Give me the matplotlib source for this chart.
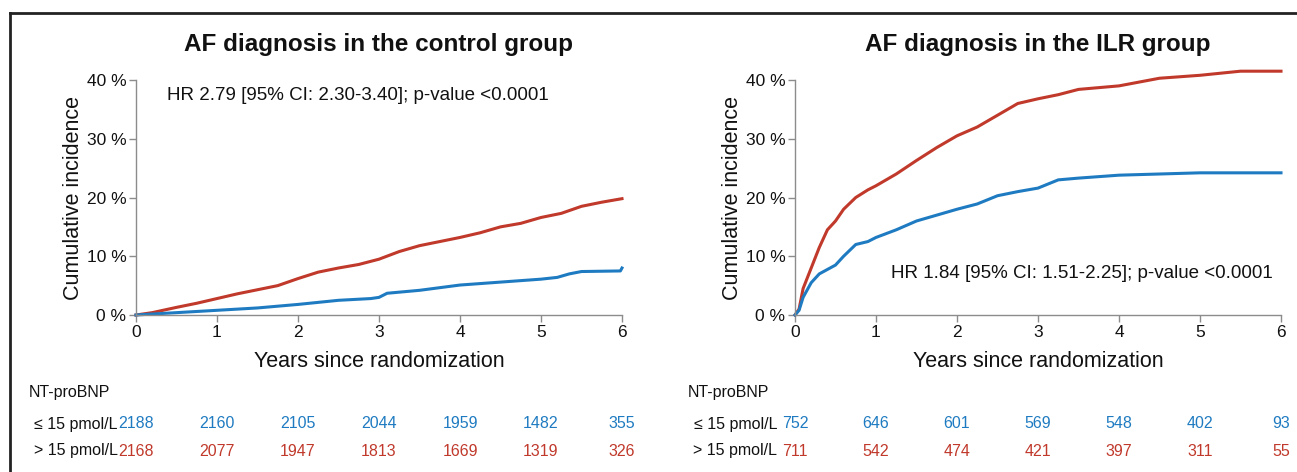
import matplotlib
matplotlib.use("Agg")
import matplotlib.pyplot as plt
from matplotlib.lines import Line2D

plt.rcParams['font.family'] = ['Liberation Sans', 'DejaVu Sans']

RED = '#c0392b'
BLUE = '#1f7bc1'
GRAY = '#8c8c8c'

# control group curves (years, cumulative incidence %)
ctrl_hi_t = [0, 0.2, 0.5, 0.75, 1, 1.25, 1.5, 1.75, 2, 2.25, 2.5, 2.75, 3, 3.25,
             3.5, 3.75, 4, 4.25, 4.5, 4.75, 5, 5.25, 5.5, 5.75, 6]
ctrl_hi_y = [0, 0.4, 1.3, 2.0, 2.8, 3.6, 4.3, 5.0, 6.2, 7.3, 8.0, 8.6, 9.5, 10.8,
             11.8, 12.5, 13.2, 14.0, 15.0, 15.6, 16.6, 17.3, 18.5, 19.2, 19.8]
ctrl_lo_t = [0, 0.5, 1, 1.5, 2, 2.5, 2.9, 3.0, 3.1, 3.5, 4, 4.5, 5, 5.2, 5.35,
             5.5, 5.98, 6]
ctrl_lo_y = [0, 0.4, 0.8, 1.2, 1.8, 2.5, 2.8, 3.0, 3.7, 4.2, 5.1, 5.6, 6.1, 6.4,
             7.0, 7.4, 7.5, 8.0]

# ILR group curves
ilr_hi_t = [0, 0.05, 0.1, 0.2, 0.3, 0.4, 0.5, 0.6, 0.75, 0.9, 1, 1.25, 1.5, 1.75,
            2, 2.25, 2.5, 2.75, 3, 3.25, 3.5, 4, 4.5, 5, 5.5, 6]
ilr_hi_y = [0, 1.0, 4.5, 8.0, 11.5, 14.5, 16.0, 18.0, 20.0, 21.3, 22.0, 24.0,
            26.3, 28.5, 30.5, 32.0, 34.0, 36.0, 36.8, 37.5, 38.4, 39.0, 40.3,
            40.8, 41.5, 41.5]
ilr_lo_t = [0, 0.05, 0.1, 0.2, 0.3, 0.5, 0.6, 0.75, 0.9, 1, 1.25, 1.5, 1.75, 2,
            2.25, 2.5, 2.75, 3, 3.25, 3.5, 4, 4.5, 5, 6]
ilr_lo_y = [0, 0.8, 3.0, 5.5, 7.0, 8.5, 10.0, 12.0, 12.5, 13.2, 14.5, 16.0, 17.0,
            18.0, 18.9, 20.3, 21.0, 21.6, 23.0, 23.3, 23.8, 24.0, 24.2, 24.2]

# numbers at risk
years = [0, 1, 2, 3, 4, 5, 6]
ctrl_risk_lo = [2188, 2160, 2105, 2044, 1959, 1482, 355]
ctrl_risk_hi = [2168, 2077, 1947, 1813, 1669, 1319, 326]
ilr_risk_lo = [752, 646, 601, 569, 548, 402, 93]
ilr_risk_hi = [711, 542, 474, 421, 397, 311, 55]

yticks = [0, 10, 20, 30, 40]

W, H = 1297, 472
fig = plt.figure(figsize=(W / 100, H / 100), dpi=100)


def fx(px):
    return px / W


def fy(py):
    return 1 - py / H


panels = [
    (136, "AF diagnosis in the control group", ctrl_lo_t, ctrl_lo_y, ctrl_hi_t, ctrl_hi_y,
     "HR 2.79 [95% CI: 2.30-3.40]; p-value <0.0001", (0.38, 37.3), ctrl_risk_lo, ctrl_risk_hi),
    (795, "AF diagnosis in the ILR group", ilr_lo_t, ilr_lo_y, ilr_hi_t, ilr_hi_y,
     "HR 1.84 [95% CI: 1.51-2.25]; p-value <0.0001", (5.9, 7.0), ilr_risk_lo, ilr_risk_hi),
]

for x0, title, lo_t, lo_y, hi_t, hi_y, hr, hrpos, risk_lo, risk_hi in panels:
    ax = fig.add_axes([fx(x0), fy(315), fx(486), fy(80) - fy(315)])
    ax.plot(hi_t, hi_y, color=RED, lw=2.2, clip_on=False, solid_joinstyle='round')
    ax.plot(lo_t, lo_y, color=BLUE, lw=2.2, clip_on=False, solid_joinstyle='round')
    ax.set_xlim(0, 6)
    ax.set_ylim(0, 40)
    ax.set_xticks(years)
    ax.set_yticks(yticks)
    ax.set_yticklabels([f"{v} %" for v in yticks])
    for s in ['top', 'right']:
        ax.spines[s].set_visible(False)
    for s in ['left', 'bottom']:
        ax.spines[s].set_color(GRAY)
        ax.spines[s].set_linewidth(1)
    ax.tick_params(colors=GRAY, labelcolor='#111111', labelsize=12.5, length=5, width=1, pad=2)
    ax.set_xlabel("Years since randomization", fontsize=15.5, color='#111111', labelpad=8)
    ax.set_ylabel("Cumulative incidence", fontsize=15.5, color='#111111', labelpad=2)
    ax.patch.set_alpha(0)
    ha = 'left' if hrpos[0] < 3 else 'right'
    ax.text(hrpos[0], hrpos[1], hr, fontsize=13.5, ha=ha, va='center', color='#111111')
    fig.text(fx(x0 + 243), fy(44), title, fontsize=17.5, fontweight='bold',
             ha='center', va='center', color='#111111')

    # risk table
    fig.text(fx(x0 - 107), fy(392), "NT-proBNP", fontsize=11.5, ha='left', va='center',
             color='#111111')
    fig.text(fx(x0 - 18), fy(424), "≤ 15 pmol/L", fontsize=11.5, ha='right', va='center',
             color='#111111')
    fig.text(fx(x0 - 18), fy(451), "> 15 pmol/L", fontsize=11.5, ha='right', va='center',
             color='#111111')
    for yr, a, b in zip(years, risk_lo, risk_hi):
        xp = x0 + yr * 81
        fig.text(fx(xp), fy(424), str(a), fontsize=11.5, ha='center', va='center', color=BLUE)
        fig.text(fx(xp), fy(451), str(b), fontsize=11.5, ha='center', va='center', color=RED)

# frame lines at top and left
fig.add_artist(Line2D([fx(10), 1], [fy(13), fy(13)], color='#222222', lw=2))
fig.add_artist(Line2D([fx(10), fx(10)], [fy(13), 0], color='#222222', lw=2))

fig.savefig("out.png", dpi=100)
